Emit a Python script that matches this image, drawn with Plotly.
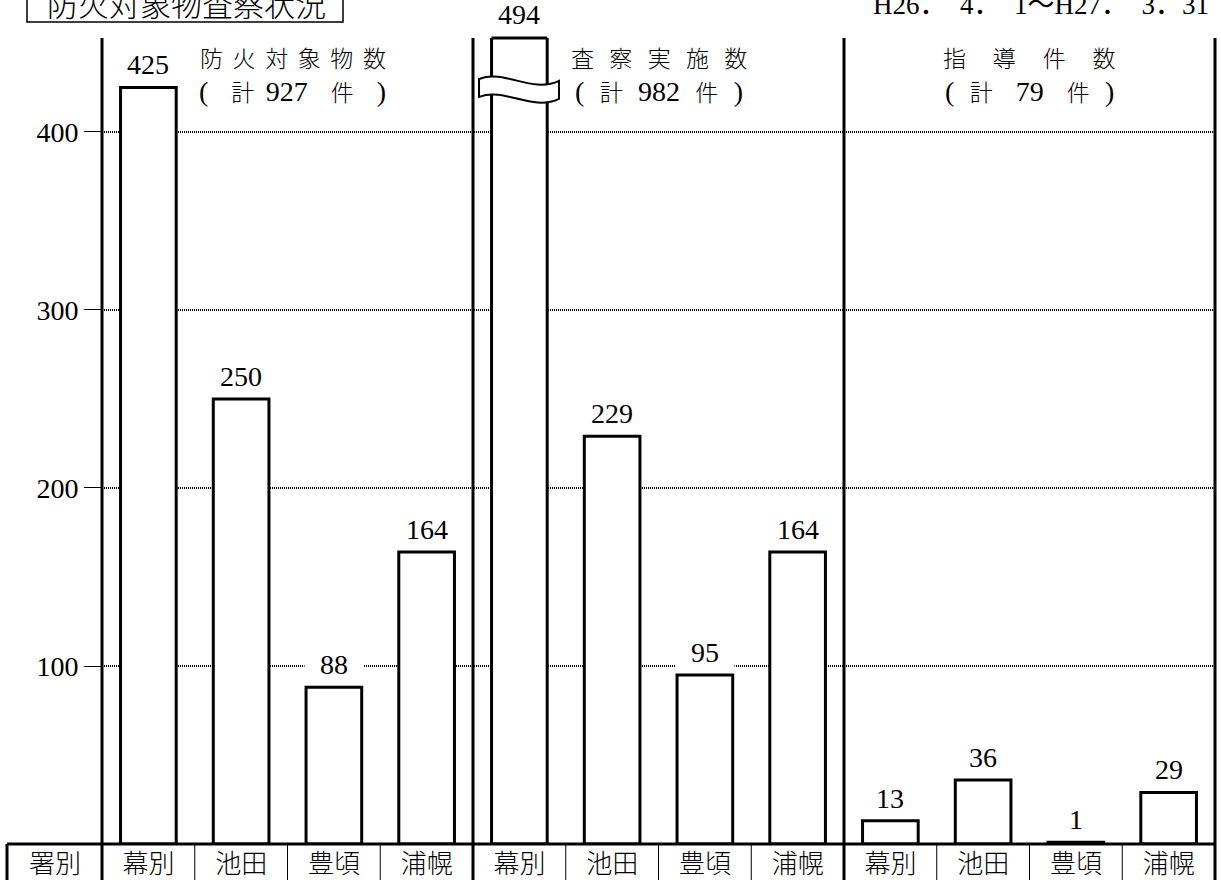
import plotly.graph_objects as go

# ---------------- data ----------------
stations = ["幕別", "池田", "豊頃", "浦幌"]
panel_titles = ["防火対象物数", "査察実施数", "指導件数"]
fire_objects = [425, 250, 88, 164]
inspections = [494, 229, 95, 164]
guidance = [13, 36, 1, 29]
y_ticks = [100, 200, 300, 400]
chart_title = "防火対象物査察状況"
period_text = "H26．　4．　1～H27．　3．31"
row_header = "署別"
Y_TOP = 452.8  # top of the value axis; taller bars are drawn broken

series = [fire_objects, inspections, guidance]

# ---------------- layout geometry ----------------
W, H = 1221, 880
L, R, T, B = 102, 6, 38, 36
PW = W - L - R
PH = H - T - B

def px_x(px):
    return (px - L) / PW

def px_y(py):
    return (H - B - py) / PH

SERIF = "Liberation Serif, Noto Sans CJK JP"
SANS = "Noto Sans CJK JP"
CJK_W = 300

values = [v for s in series for v in s]
xs = list(range(len(values)))
labels = stations * len(series)
n = len(values)
per_panel = len(stations)
BAR_W = 0.6

fig = go.Figure()
fig.add_trace(go.Bar(
    x=xs, y=values, width=BAR_W,
    marker=dict(color="white", line=dict(color="black", width=3)),
    hoverinfo="skip", showlegend=False,
))

annotations = []
shapes = []

# value labels
for i, v in enumerate(values):
    if v > Y_TOP:
        annotations.append(dict(
            x=i, y=1, xref="x", yref="paper", text=str(v), showarrow=False,
            yanchor="bottom", yshift=6, font=dict(family=SERIF, size=28, color="black")))
        # top edge of the broken bar
        shapes.append(dict(type="line", xref="x", yref="paper",
                           x0=i - BAR_W / 2, x1=i + BAR_W / 2, y0=1, y1=1,
                           line=dict(color="black", width=3)))
        # break mark
        yc = Y_TOP - 28
        a0, a1 = i - 0.435, i + 0.427
        path = (f"M {a0},{yc+5} C {i-0.15},{yc+10.6} {i+0.13},{yc-3.4} {a1},{yc+3.9} "
                f"L {a1},{yc-6.2} C {i+0.13},{yc-13.5} {i-0.15},{yc+0.5} {a0},{yc-5.1} Z")
        shapes.append(dict(type="path", xref="x", yref="y", path=path,
                           fillcolor="white", line=dict(color="black", width=2),
                           layer="above"))
    else:
        annotations.append(dict(
            x=i, y=v, xref="x", yref="y", text=str(v), showarrow=False,
            yanchor="bottom", yshift=5, bgcolor="white", width=56,
            font=dict(family=SERIF, size=28, color="black")))

# panel titles
title_gaps = ["\u2005\u2006", "\u2002\u2006", "\u3000\u2006"]
sub_gaps = [("\u3000", "\u2002", "\u3000", "\u3000"),
            ("\u2002\u2006", "\u2002\u2006", "\u2002\u2006", "\u2002\u2006"),
            ("\u2002\u2006", "\u3000", "\u3000", "\u2002\u2006")]
title_xshift = [5, 0, 0]

def big(s):
    return f'<span style="font-size:28px">{s}</span>'

for p, (title, s) in enumerate(zip(panel_titles, series)):
    cx = p * per_panel + (per_panel - 1) / 2
    g = title_gaps[p]
    annotations.append(dict(
        x=cx, y=px_y(57), xref="x", yref="paper", text=g.join(list(title)),
        showarrow=False, xshift=title_xshift[p], yanchor="middle",
        font=dict(family=SANS, size=23, color="black", weight=CJK_W)))
    sg = sub_gaps[p]
    sub = big("(") + sg[0] + "計" + sg[1] + big(str(sum(s))) + sg[2] + "件" + sg[3] + big(")")
    annotations.append(dict(
        x=cx, y=px_y(91), xref="x", yref="paper", text=sub,
        showarrow=False, xshift=title_xshift[p], yanchor="middle",
        font=dict(family=SERIF, size=23, color="black", weight=CJK_W)))

# chart title (boxed, top-left) and period (top-right)
annotations.append(dict(
    x=px_x(186), y=px_y(2), xref="paper", yref="paper", text=chart_title,
    showarrow=False, xanchor="center", yanchor="middle",
    font=dict(family=SANS, size=31, color="black", weight=CJK_W)))
shapes.append(dict(type="rect", xref="paper", yref="paper",
                   x0=px_x(27), x1=px_x(343), y0=px_y(22), y1=px_y(-30),
                   line=dict(color="black", width=1.5), fillcolor="rgba(0,0,0,0)"))
annotations.append(dict(
    x=px_x(1211), y=px_y(5), xref="paper", yref="paper", text=period_text,
    showarrow=False, xanchor="right", yanchor="middle",
    font=dict(family=SERIF, size=27, color="black")))

# row header of the table
annotations.append(dict(
    x=px_x(55), y=0, xref="paper", yref="paper", text=row_header,
    showarrow=False, xanchor="center", yanchor="top", yshift=3,
    font=dict(family=SANS, size=26, color="black", weight=CJK_W)))

# panel dividers (thick) and table dividers (thin)
y_bottom = px_y(H + 5)
for k in range(n + 1):
    xp = k / n
    if k % per_panel == 0:
        shapes.append(dict(type="line", xref="paper", yref="paper",
                           x0=xp, x1=xp, y0=y_bottom, y1=1,
                           line=dict(color="black", width=3)))
    else:
        shapes.append(dict(type="line", xref="paper", yref="paper",
                           x0=xp, x1=xp, y0=y_bottom, y1=0,
                           line=dict(color="black", width=1)))
# table top line and left border
shapes.append(dict(type="line", xref="paper", yref="paper",
                   x0=px_x(7), x1=1, y0=0, y1=0, line=dict(color="black", width=3)))
shapes.append(dict(type="line", xref="paper", yref="paper",
                   x0=px_x(7), x1=px_x(7), y0=y_bottom, y1=0,
                   line=dict(color="black", width=3)))

fig.update_layout(
    width=W, height=H,
    margin=dict(l=L, r=R, t=T, b=B, pad=0, autoexpand=False),
    paper_bgcolor="white", plot_bgcolor="white",
    bargap=0.4,
    annotations=annotations, shapes=shapes,
    showlegend=False,
)
fig.update_xaxes(
    range=[-0.5, n - 0.5], tickvals=xs, ticktext=labels, ticks="",
    showgrid=False, zeroline=False, showline=False, automargin=False,
    tickfont=dict(family=SANS, size=26, color="black", weight=CJK_W),
    ticklabelstandoff=2,
)
fig.update_yaxes(
    range=[0, Y_TOP], tickvals=y_ticks, ticks="outside", ticklen=17,
    tickwidth=1, tickcolor="black", automargin=False,
    showgrid=True, gridcolor="black", gridwidth=2, griddash="1px,1px",
    zeroline=False, showline=False,
    tickfont=dict(family=SERIF, size=28, color="black"),
)

fig.write_html(
    "out.html",
    config={"displayModeBar": False, "staticPlot": True},
    post_script="document.body.style.margin='0px';document.body.style.overflow='hidden';",
)
